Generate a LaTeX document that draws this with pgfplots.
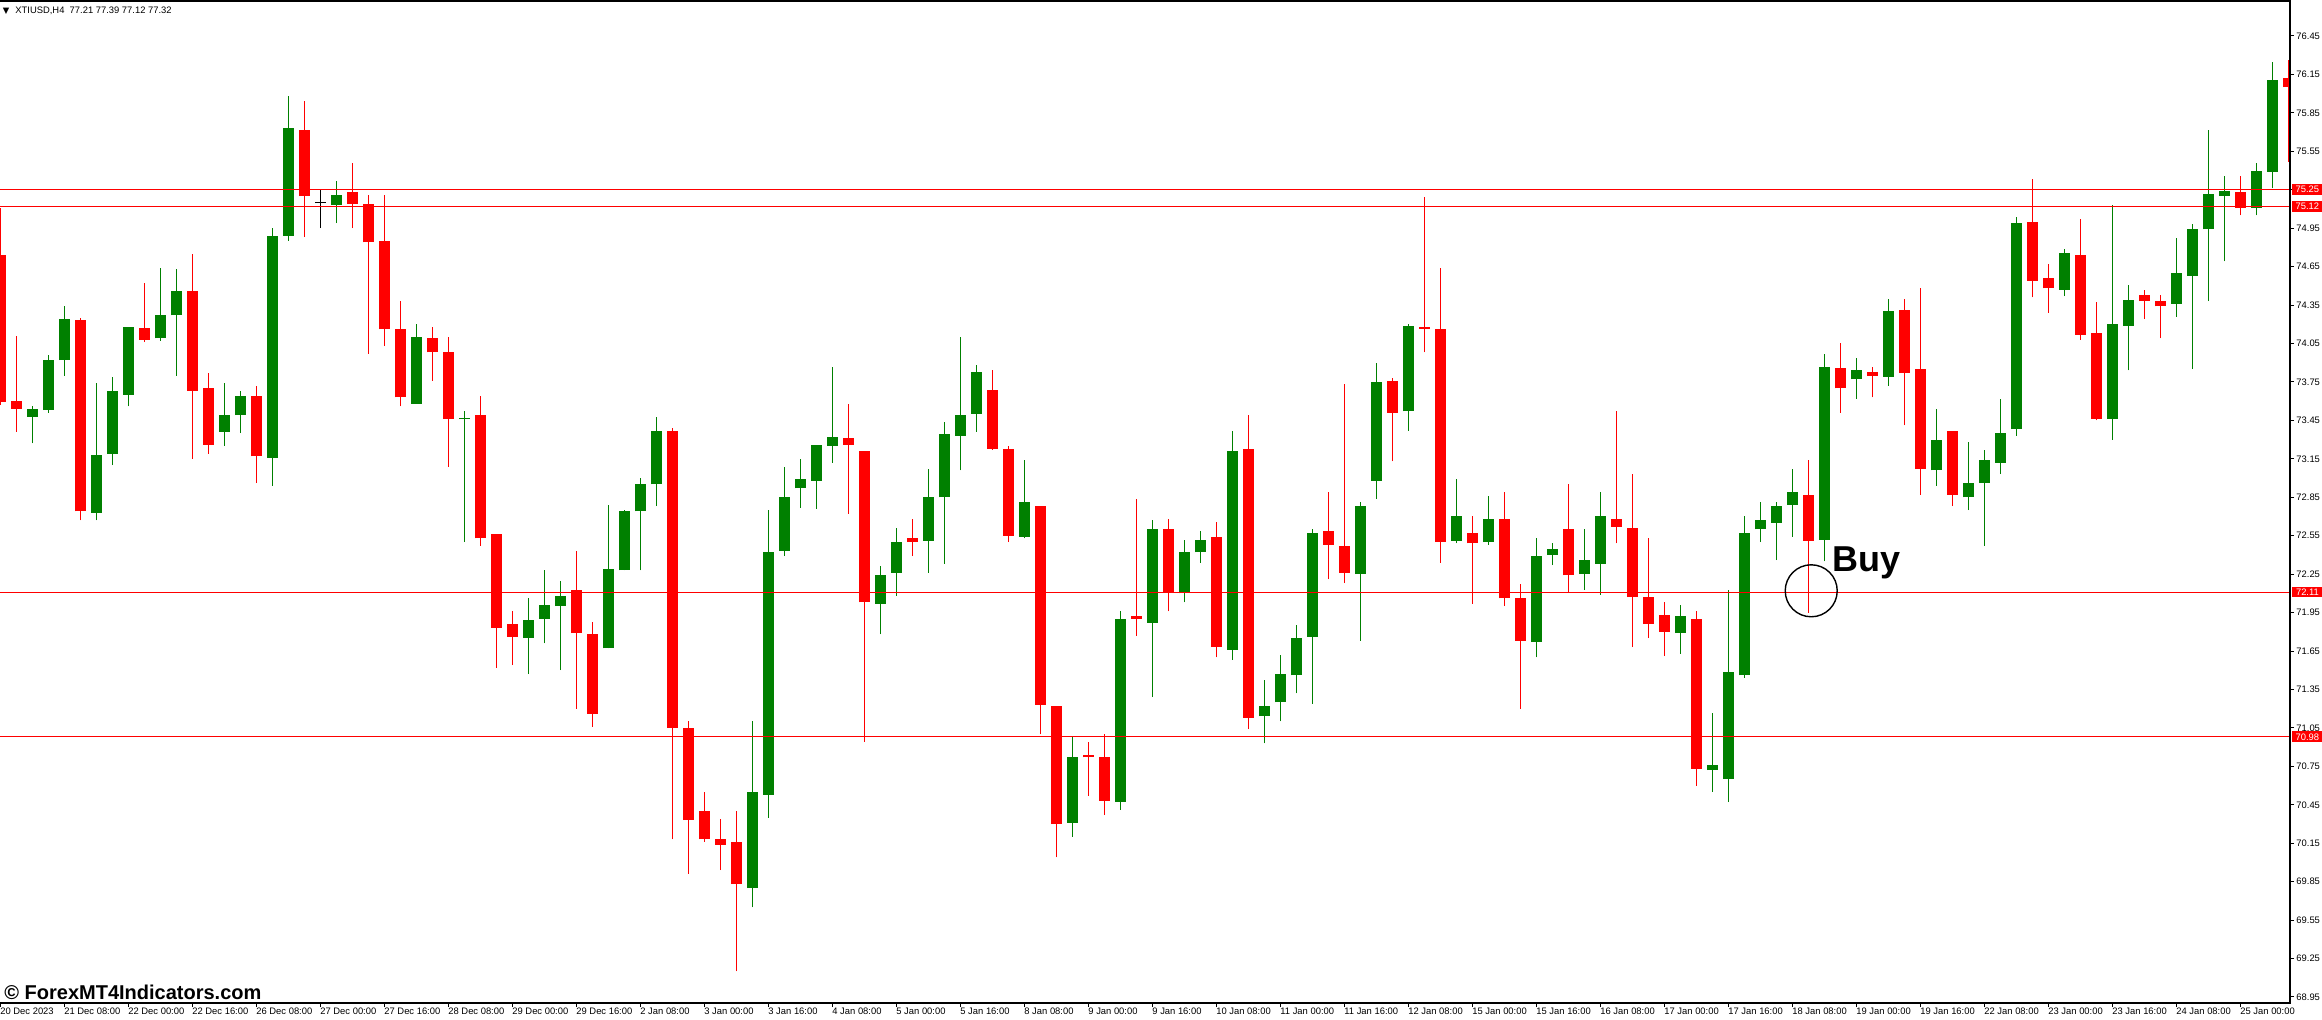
\documentclass[border=0pt]{standalone}
\usepackage{pgfplots}
\pgfplotsset{compat=1.18}
\usepackage{pgfplotstable}
\usepackage{fontspec}
\setmainfont{Liberation Sans}
\newfontfamily\dejavu{DejaVu Sans}
\definecolor{mtgreen}{RGB}{0,128,0}
\definecolor{mtred}{RGB}{255,0,0}

% green (bullish) candles: index, open, high, low, close
\pgfplotstableread{
i O H L C
2 73.48 73.56 73.27 73.54
3 73.53 73.96 73.51 73.92
4 73.92 74.34 73.80 74.24
6 72.73 73.74 72.67 73.18
7 73.19 73.79 73.10 73.68
8 73.65 74.18 73.56 74.18
10 74.09 74.64 74.07 74.27
11 74.27 74.63 73.80 74.46
14 73.36 73.74 73.25 73.49
15 73.49 73.68 73.35 73.64
17 73.16 74.95 72.94 74.89
18 74.89 75.98 74.85 75.73
21 75.13 75.32 74.99 75.21
26 73.58 74.20 73.58 74.10
29 73.46 73.52 72.50 73.47
33 71.75 72.06 71.47 71.89
34 71.90 72.28 71.71 72.01
35 72.00 72.20 71.50 72.08
38 71.67 72.79 71.67 72.29
39 72.28 72.75 72.28 72.74
40 72.74 73.00 72.28 72.95
41 72.95 73.48 72.78 73.37
47 69.80 71.10 69.65 70.55
48 70.53 72.75 70.35 72.42
49 72.43 73.09 72.39 72.85
50 72.92 73.15 72.77 72.99
51 72.98 73.26 72.76 73.26
52 73.25 73.87 73.12 73.32
55 72.02 72.31 71.78 72.24
56 72.26 72.61 72.08 72.50
58 72.51 73.07 72.26 72.85
59 72.85 73.44 72.33 73.34
60 73.33 74.10 73.06 73.49
61 73.50 73.88 73.36 73.83
64 72.54 73.14 72.53 72.81
67 70.31 70.98 70.20 70.82
70 70.47 71.96 70.41 71.90
72 71.87 72.67 71.29 72.60
74 72.10 72.52 72.03 72.42
75 72.42 72.59 72.34 72.52
77 71.66 73.37 71.58 73.21
79 71.14 71.42 70.93 71.22
80 71.25 71.62 71.10 71.47
81 71.46 71.85 71.32 71.75
82 71.76 72.60 71.24 72.57
85 72.25 72.81 71.73 72.78
86 72.98 73.90 72.84 73.75
88 73.52 74.20 73.37 74.19
91 72.51 72.99 72.49 72.70
93 72.50 72.86 72.48 72.68
96 71.72 72.53 71.60 72.39
97 72.40 72.49 72.32 72.45
99 72.25 72.60 72.13 72.36
100 72.33 72.89 72.09 72.70
105 71.79 72.01 71.63 71.92
107 70.72 71.17 70.55 70.76
108 70.65 72.13 70.47 71.49
109 71.46 72.70 71.44 72.57
110 72.60 72.81 72.50 72.67
111 72.65 72.81 72.36 72.78
112 72.79 73.07 72.54 72.89
114 72.52 73.97 72.35 73.87
116 73.77 73.94 73.62 73.84
118 73.79 74.40 73.72 74.30
121 73.06 73.54 72.94 73.30
123 72.85 73.28 72.75 72.96
124 72.96 73.22 72.47 73.14
125 73.12 73.62 73.03 73.35
126 73.38 75.04 73.33 74.99
129 74.47 74.79 74.42 74.76
132 73.46 75.13 73.30 74.20
133 74.19 74.51 73.84 74.39
136 74.36 74.87 74.26 74.60
137 74.58 74.98 73.85 74.94
138 74.94 75.72 74.38 75.22
139 75.20 75.36 74.69 75.24
141 75.11 75.46 75.05 75.40
142 75.39 76.25 75.26 76.11
}\upT

% red (bearish) candles
\pgfplotstableread{
i O H L C
0 74.74 75.11 73.57 73.59
1 73.60 74.11 73.36 73.54
5 74.23 74.25 72.67 72.74
9 74.17 74.52 74.06 74.08
12 74.46 74.75 73.15 73.68
13 73.70 73.82 73.19 73.26
16 73.64 73.72 72.96 73.17
19 75.72 75.94 74.88 75.20
22 75.23 75.46 74.95 75.14
23 75.14 75.21 73.97 74.84
24 74.85 75.21 74.03 74.16
25 74.16 74.38 73.56 73.63
27 74.09 74.18 73.76 73.98
28 73.98 74.10 73.09 73.46
30 73.49 73.64 72.47 72.53
31 72.56 72.56 71.52 71.83
32 71.86 71.96 71.54 71.76
36 72.13 72.43 71.20 71.79
37 71.78 71.88 71.06 71.16
42 73.37 73.39 70.18 71.05
43 71.05 71.10 69.91 70.33
44 70.40 70.55 70.16 70.18
45 70.18 70.34 69.94 70.14
46 70.16 70.40 69.15 69.83
53 73.31 73.58 72.72 73.26
54 73.21 73.21 70.94 72.03
57 72.53 72.68 72.39 72.50
62 73.69 73.84 73.22 73.23
63 73.23 73.25 72.50 72.55
65 72.78 72.78 71.00 71.23
66 71.22 71.22 70.04 70.30
68 70.835 70.94 70.52 70.82
69 70.82 71.00 70.37 70.48
71 71.92 72.84 71.77 71.90
73 72.60 72.68 71.96 72.11
76 72.54 72.66 71.60 71.68
78 73.23 73.49 71.04 71.13
83 72.59 72.89 72.21 72.48
84 72.47 73.73 72.18 72.26
87 73.76 73.78 73.13 73.51
89 74.18 75.19 73.98 74.165
90 74.16 74.64 72.34 72.50
92 72.57 72.70 72.02 72.49
94 72.68 72.89 72.00 72.06
95 72.06 72.17 71.20 71.73
98 72.60 72.95 72.11 72.24
101 72.68 73.52 72.49 72.62
102 72.61 73.03 71.68 72.07
103 72.07 72.53 71.75 71.86
104 71.93 72.03 71.61 71.80
106 71.90 71.96 70.60 70.73
113 72.87 73.14 71.95 72.51
115 73.86 74.05 73.51 73.70
117 73.83 73.87 73.63 73.80
119 74.31 74.40 73.41 73.82
120 73.85 74.48 72.87 73.07
122 73.37 73.37 72.78 72.87
127 75.00 75.33 74.41 74.54
128 74.56 74.67 74.29 74.48
130 74.74 75.02 74.08 74.12
131 74.13 74.37 73.45 73.46
134 74.43 74.47 74.24 74.38
135 74.38 74.43 74.09 74.34
140 75.23 75.36 75.05 75.11
143 76.12 76.26 75.47 76.05
}\downT

% doji (open = close)
\pgfplotstableread{
i O H L C
20 75.145 75.25 74.95 75.155
}\flatT

\begin{document}
\begin{tikzpicture}
\path[use as bounding box] (0,-8pt) rectangle (1161pt,501.5pt);
\begin{axis}[
  at={(0,0)}, anchor=south west,
  scale only axis, width=1145pt, height=501pt,
  xmin=0, xmax=143.125, ymin=68.903, ymax=76.723,
  clip mode=individual,
  axis line style={draw=none},
  ytick={68.95,69.25,69.55,69.85,70.15,70.45,70.75,71.05,71.35,71.65,71.95,72.25,72.55,72.85,73.15,73.45,73.75,74.05,74.35,74.65,74.95,75.25,75.55,75.85,76.15,76.45},
  yticklabels={68.95,69.25,69.55,69.85,70.15,70.45,70.75,71.05,71.35,71.65,71.95,72.25,72.55,72.85,73.15,73.45,73.75,74.05,74.35,74.65,74.95,75.25,75.55,75.85,76.15,76.45},
  ytick pos=right, yticklabel pos=right,
  xtick={0,4,...,140},
  xticklabels={20 Dec 2023,21 Dec 08:00,22 Dec 00:00,22 Dec 16:00,26 Dec 08:00,27 Dec 00:00,27 Dec 16:00,28 Dec 08:00,29 Dec 00:00,29 Dec 16:00,2 Jan 08:00,3 Jan 00:00,3 Jan 16:00,4 Jan 08:00,5 Jan 00:00,5 Jan 16:00,8 Jan 08:00,9 Jan 00:00,9 Jan 16:00,10 Jan 08:00,11 Jan 00:00,11 Jan 16:00,12 Jan 08:00,15 Jan 00:00,15 Jan 16:00,16 Jan 08:00,17 Jan 00:00,17 Jan 16:00,18 Jan 08:00,19 Jan 00:00,19 Jan 16:00,22 Jan 08:00,23 Jan 00:00,23 Jan 16:00,24 Jan 08:00,25 Jan 00:00},
  xtick pos=bottom,
  tick align=outside, major tick length=2pt,
  tick style={black, line width=0.5pt},
  tick label style={font=\fontsize{4.7}{5.5}\selectfont, inner sep=0pt, text=black},
  /pgf/number format/assume math mode=true,
  xticklabel style={anchor=north west, xshift=0pt, yshift=-0.5pt},
  yticklabel style={anchor=west, xshift=1pt},
  candle/.style={draw=none, mark=none, forget plot},
]
% wicks
\addplot[candle, error bars/.cd, y dir=plus, y explicit, error mark=none, error bar style={line width=0.5pt, draw=mtgreen}]
  table[x=i, y=L, y error plus expr=\thisrow{H}-\thisrow{L}] {\upT};
\addplot[candle, error bars/.cd, y dir=plus, y explicit, error mark=none, error bar style={line width=0.5pt, draw=mtred}]
  table[x=i, y=L, y error plus expr=\thisrow{H}-\thisrow{L}] {\downT};
\addplot[candle, error bars/.cd, y dir=plus, y explicit, error mark=none, error bar style={line width=0.5pt, draw=black}]
  table[x=i, y=L, y error plus expr=\thisrow{H}-\thisrow{L}] {\flatT};
% bodies
\addplot[candle, error bars/.cd, y dir=plus, y explicit, error mark=none, error bar style={line width=5.5pt, line cap=butt, draw=mtgreen}]
  table[x=i, y=O, y error plus expr=\thisrow{C}-\thisrow{O}] {\upT};
\addplot[candle, error bars/.cd, y dir=plus, y explicit, error mark=none, error bar style={line width=5.5pt, line cap=butt, draw=mtred}]
  table[x=i, y=C, y error plus expr=\thisrow{O}-\thisrow{C}] {\downT};
\addplot[candle, error bars/.cd, y dir=plus, y explicit, error mark=none, error bar style={line width=5.5pt, line cap=butt, draw=black}]
  table[x=i, y=O, y error plus expr=\thisrow{C}-\thisrow{O}] {\flatT};
% horizontal levels
\addplot[mtred, line width=0.5pt, forget plot] coordinates {(0,75.25) (143.125,75.25)};
\addplot[mtred, line width=0.5pt, forget plot] coordinates {(0,75.12) (143.125,75.12)};
\addplot[mtred, line width=0.5pt, forget plot] coordinates {(0,72.11) (143.125,72.11)};
\addplot[mtred, line width=0.5pt, forget plot] coordinates {(0,70.98) (143.125,70.98)};
% buy circle
\addplot[only marks, mark=o, mark size=13pt, mark options={line width=0.7pt, draw=black, fill=none}, forget plot] coordinates {(113.2,72.12)};
% frame
\draw[black, line width=0.6pt] (rel axis cs:0,1) -- (rel axis cs:1,1) -- (rel axis cs:1,0) -- (rel axis cs:0,0);
% price boxes
\node[fill=mtred, text=white, anchor=west, inner sep=0pt, minimum width=15pt, minimum height=5.4pt, font=\fontsize{4.7}{5.5}\selectfont, xshift=1pt] at (axis cs:143.125,75.25) {75.25};
\node[fill=mtred, text=white, anchor=west, inner sep=0pt, minimum width=15pt, minimum height=5.4pt, font=\fontsize{4.7}{5.5}\selectfont, xshift=1pt] at (axis cs:143.125,75.12) {75.12};
\node[fill=mtred, text=white, anchor=west, inner sep=0pt, minimum width=15pt, minimum height=5.4pt, font=\fontsize{4.7}{5.5}\selectfont, xshift=1pt] at (axis cs:143.125,72.11) {72.11};
\node[fill=mtred, text=white, anchor=west, inner sep=0pt, minimum width=15pt, minimum height=5.4pt, font=\fontsize{4.7}{5.5}\selectfont, xshift=1pt] at (axis cs:143.125,70.98) {70.98};
% header
\node[anchor=west, inner sep=0pt, font={\dejavu\fontsize{4.2}{5}\selectfont}] at (rel axis cs:0,1) [xshift=1.2pt, yshift=-5pt] {▼};
\node[anchor=west, inner sep=0pt, font=\fontsize{4.7}{5.5}\selectfont] at (rel axis cs:0,1) [xshift=7.5pt, yshift=-5pt] {XTIUSD,H4\ \ 77.21 77.39 77.12 77.32};
% watermark
\node[anchor=base west, inner sep=0pt, font=\bfseries\fontsize{10}{12}\selectfont] at (rel axis cs:0,0) [xshift=2pt, yshift=2pt] {© ForexMT4Indicators.com};
% Buy label
\node[anchor=base west, inner sep=0pt, font=\bfseries\fontsize{18}{20}\selectfont] at (axis cs:114.5,72.267) {Buy};
\end{axis}
\end{tikzpicture}
\end{document}
